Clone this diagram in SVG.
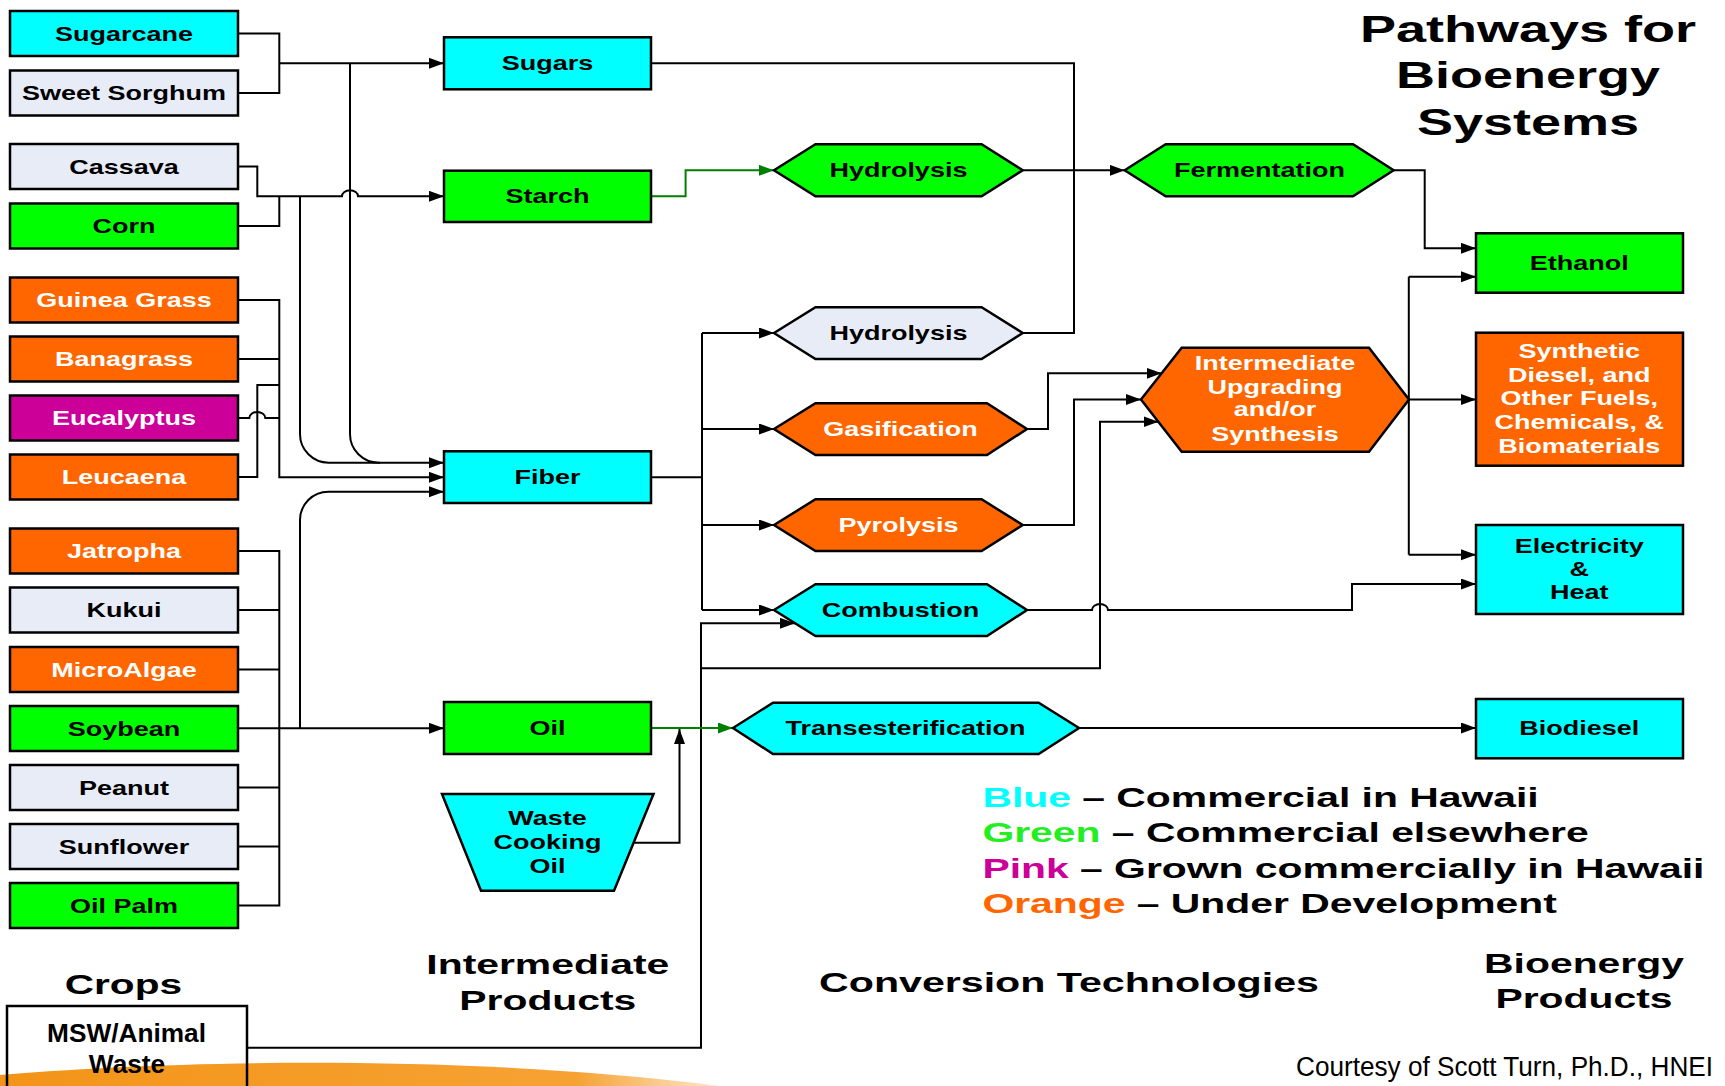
<svg xmlns="http://www.w3.org/2000/svg" width="1725" height="1086" viewBox="0 0 1725 1086">
<defs>
<style>
.b{stroke:#000;stroke-width:2.5}
.cy{fill:#00FFFF}.gr{fill:#00FF00}.lt{fill:#E7ECF7}.or{fill:#FF6600}.mg{fill:#CC0099}.no{fill:none}
text{font-family:"Liberation Sans",Arial,Helvetica,sans-serif;font-weight:bold}
.n{font-size:20px;text-anchor:middle;fill:#000}
.w{fill:#fff}
.h{font-size:28px;text-anchor:middle;fill:#000}
.ti{font-size:37px;text-anchor:middle;fill:#000}
.lg{font-size:28px;fill:#000}
.ms{font-size:25px;text-anchor:middle;fill:#000}
.cr{font-size:27px;font-weight:normal;fill:#000}
.c{fill:none;stroke:#000;stroke-width:2}
.g{stroke:#008000}
</style>
<marker id="ah" markerUnits="userSpaceOnUse" markerWidth="16" markerHeight="12" refX="15" refY="5.5" orient="auto"><path d="M0,0 L15,5.5 L0,11 z" fill="#000"/></marker>
<marker id="ag" markerUnits="userSpaceOnUse" markerWidth="16" markerHeight="12" refX="15" refY="5.5" orient="auto"><path d="M0,0 L15,5.5 L0,11 z" fill="#008000"/></marker>
<linearGradient id="sw" x1="0" y1="0" x2="1" y2="0">
<stop offset="0" stop-color="#F39418"/>
<stop offset="0.8" stop-color="#F6A233"/>
<stop offset="1" stop-color="#FDE9CC"/>
</linearGradient>
</defs>
<rect x="0" y="0" width="1725" height="1086" fill="#fff"/>
<path d="M0,1075 C150,1062 450,1052 720,1086 L0,1086 Z" fill="url(#sw)"/>

<g id="connectors">
<path class="c" d="M238,33.5 H279.3 V93 H238"/>
<path class="c" d="M279.3,63.3 H444" marker-end="url(#ah)"/>
<path class="c" d="M350,63.3 V434 A28.7,28.7 0 0 0 378.7,462.7 H444" marker-end="url(#ah)"/>
<path class="c" d="M238,166.5 H257.3 V196.3 H342 A8,6 0 0 1 358,196.3 H444" marker-end="url(#ah)"/>
<path class="c" d="M238,226 H279.3 V196.3"/>
<path class="c" d="M300,196.3 V434 A28.7,28.7 0 0 0 328.7,462.7 H380"/>
<path class="c" d="M238,300 H279.3 V477.3 H444" marker-end="url(#ah)"/>
<path class="c" d="M238,359 H279.3"/>
<path class="c" d="M238,418 H249.3 A8,6 0 0 1 265.3,418 H279.3"/>
<path class="c" d="M238,477 H257.3 V385 H279.3"/>
<path class="c" d="M238,551 H279.3 V905.5 H238"/>
<path class="c" d="M238,610 H279.3 M238,669.5 H279.3 M238,787.5 H279.3 M238,846.5 H279.3"/>
<path class="c" d="M238,728.3 H444" marker-end="url(#ah)"/>
<path class="c" d="M300,728.3 V520 A28.3,28.3 0 0 1 328.3,491.7 H444" marker-end="url(#ah)"/>
<path class="c g" d="M651,196.3 H685.6 V170.3 H774" marker-end="url(#ag)"/>
<path class="c" d="M651,63.3 H1074 V170.3"/>
<path class="c" d="M1022.7,333 H1074 V170.3"/>
<path class="c" d="M1022.7,170.3 H1124.7" marker-end="url(#ah)"/>
<path class="c" d="M1393.6,170.3 H1424.7 V248.3 H1476" marker-end="url(#ah)"/>
<path class="c" d="M651,477.2 H702 M702,333 V610"/>
<path class="c" d="M702,333 H774" marker-end="url(#ah)"/>
<path class="c" d="M702,429 H774" marker-end="url(#ah)"/>
<path class="c" d="M702,525 H774" marker-end="url(#ah)"/>
<path class="c" d="M702,610 H774" marker-end="url(#ah)"/>
<path class="c" d="M1027,429 H1048 V373.3 H1161.6" marker-end="url(#ah)"/>
<path class="c" d="M1022.7,525 H1074 V399.5 H1141" marker-end="url(#ah)"/>
<path class="c" d="M247,1047.7 H701 V623.3 H795" marker-end="url(#ah)"/>
<path class="c" d="M701,668.3 H1100 V421.7 H1158.5" marker-end="url(#ah)"/>
<path class="c" d="M1027,610 H1092 A8,6 0 0 1 1108,610 H1352 V584 H1476" marker-end="url(#ah)"/>
<path class="c" d="M1409,399.5 H1476" marker-end="url(#ah)"/>
<path class="c" d="M1408.8,276.7 V554.7"/>
<path class="c" d="M1408.8,276.7 H1476" marker-end="url(#ah)"/>
<path class="c" d="M1408.8,554.7 H1476" marker-end="url(#ah)"/>
<path class="c g" d="M651,728 H733" marker-end="url(#ag)"/>
<path class="c" d="M633,842.7 H679.5 V729" marker-end="url(#ah)"/>
<path class="c" d="M1079,728 H1476" marker-end="url(#ah)"/>
</g>

<g id="sugarcane"><rect class="b cy" x="10" y="11" width="228" height="45"/><text class="n" transform="translate(124,40.5) scale(1.35,1)">Sugarcane</text></g>
<g id="sweet-sorghum"><rect class="b lt" x="10" y="70.5" width="228" height="45"/><text class="n" transform="translate(124,100) scale(1.35,1)">Sweet Sorghum</text></g>
<g id="cassava"><rect class="b lt" x="10" y="144" width="228" height="45"/><text class="n" transform="translate(124,173.5) scale(1.35,1)">Cassava</text></g>
<g id="corn"><rect class="b gr" x="10" y="203.5" width="228" height="45"/><text class="n" transform="translate(124,233) scale(1.35,1)">Corn</text></g>
<g id="guinea-grass"><rect class="b or" x="10" y="277.5" width="228" height="45"/><text class="n w" transform="translate(124,307) scale(1.35,1)">Guinea Grass</text></g>
<g id="banagrass"><rect class="b or" x="10" y="336.5" width="228" height="45"/><text class="n w" transform="translate(124,366) scale(1.35,1)">Banagrass</text></g>
<g id="eucalyptus"><rect class="b mg" x="10" y="395.5" width="228" height="45"/><text class="n w" transform="translate(124,425) scale(1.35,1)">Eucalyptus</text></g>
<g id="leucaena"><rect class="b or" x="10" y="454.5" width="228" height="45"/><text class="n w" transform="translate(124,484) scale(1.35,1)">Leucaena</text></g>
<g id="jatropha"><rect class="b or" x="10" y="528.5" width="228" height="45"/><text class="n w" transform="translate(124,558) scale(1.35,1)">Jatropha</text></g>
<g id="kukui"><rect class="b lt" x="10" y="587.5" width="228" height="45"/><text class="n" transform="translate(124,617) scale(1.35,1)">Kukui</text></g>
<g id="microalgae"><rect class="b or" x="10" y="647" width="228" height="45"/><text class="n w" transform="translate(124,676.5) scale(1.35,1)">MicroAlgae</text></g>
<g id="soybean"><rect class="b gr" x="10" y="706" width="228" height="45"/><text class="n" transform="translate(124,735.5) scale(1.35,1)">Soybean</text></g>
<g id="peanut"><rect class="b lt" x="10" y="765" width="228" height="45"/><text class="n" transform="translate(124,794.5) scale(1.35,1)">Peanut</text></g>
<g id="sunflower"><rect class="b lt" x="10" y="824" width="228" height="45"/><text class="n" transform="translate(124,853.5) scale(1.35,1)">Sunflower</text></g>
<g id="oil-palm"><rect class="b gr" x="10" y="883" width="228" height="45"/><text class="n" transform="translate(124,912.5) scale(1.35,1)">Oil Palm</text></g>
<g id="msw"><rect class="b no" x="7" y="1006" width="240" height="90"/><text class="ms" transform="translate(126.5,1041.7) scale(1.05,1)">MSW/Animal</text><text class="ms" transform="translate(127,1073) scale(1.05,1)">Waste</text></g>

<g id="sugars"><rect class="b cy" x="444" y="37.3" width="207" height="52"/><text class="n" transform="translate(547.5,70) scale(1.35,1)">Sugars</text></g>
<g id="starch"><rect class="b gr" x="444" y="170.7" width="207" height="51.3"/><text class="n" transform="translate(547.5,203.3) scale(1.35,1)">Starch</text></g>
<g id="fiber"><rect class="b cy" x="444" y="451.3" width="207" height="51.7"/><text class="n" transform="translate(547.5,484.2) scale(1.35,1)">Fiber</text></g>
<g id="oil"><rect class="b gr" x="444" y="702" width="207" height="52"/><text class="n" transform="translate(547.5,735) scale(1.35,1)">Oil</text></g>
<g id="waste-cooking-oil"><polygon class="b cy" points="442,794 653.5,794 614,890.7 481,890.7"/><text class="n" transform="translate(547.5,825) scale(1.35,1)"><tspan x="0">Waste</tspan><tspan x="0" dy="24.5">Cooking</tspan><tspan x="0" dy="23.5">Oil</tspan></text></g>

<g id="hydrolysis-starch"><polygon class="b gr" points="774,170.3 815.5,144.3 981.6,144.3 1022.7,170.3 981.6,196.3 815.5,196.3"/><text class="n" transform="translate(898.4,177) scale(1.35,1)">Hydrolysis</text></g>
<g id="fermentation"><polygon class="b gr" points="1124.7,170.3 1165.7,144.3 1353,144.3 1393.6,170.3 1353,196.3 1165.7,196.3"/><text class="n" transform="translate(1259.5,177) scale(1.35,1)">Fermentation</text></g>
<g id="hydrolysis-fiber"><polygon class="b lt" points="774,333 815.5,307.3 981.6,307.3 1022.7,333 981.6,359 815.5,359"/><text class="n" transform="translate(898.4,340) scale(1.35,1)">Hydrolysis</text></g>
<g id="gasification"><polygon class="b or" points="774,429 815.5,403.3 987,403.3 1027,429 987,455 815.5,455"/><text class="n w" transform="translate(900.5,436) scale(1.35,1)">Gasification</text></g>
<g id="pyrolysis"><polygon class="b or" points="774,525 815.5,499.3 981.6,499.3 1022.7,525 981.6,551 815.5,551"/><text class="n w" transform="translate(898.4,532) scale(1.35,1)">Pyrolysis</text></g>
<g id="combustion"><polygon class="b cy" points="774,610 815.5,584.3 987,584.3 1027,610 987,636 815.5,636"/><text class="n" transform="translate(900.5,617) scale(1.35,1)">Combustion</text></g>
<g id="transesterification"><polygon class="b cy" points="733,728 773,702.7 1038.6,702.7 1079,728 1038.6,754 773,754"/><text class="n" transform="translate(905.5,735) scale(1.35,1)">Transesterification</text></g>
<g id="intermediate-upgrading"><polygon class="b or" points="1141,399.5 1181.7,347.7 1369,347.7 1409,399.5 1369,451.7 1181.7,451.7"/><text class="n w" transform="translate(1275,370) scale(1.35,1)"><tspan x="0">Intermediate</tspan><tspan x="0" dy="24">Upgrading</tspan><tspan x="0" dy="22.5">and/or</tspan><tspan x="0" dy="24.3">Synthesis</tspan></text></g>

<g id="ethanol"><rect class="b gr" x="1476" y="233.3" width="207" height="59.4"/><text class="n" transform="translate(1579.3,270) scale(1.35,1)">Ethanol</text></g>
<g id="synthetic"><rect class="b or" x="1476" y="332.7" width="207" height="133"/><text class="n w" transform="translate(1579.3,358.3) scale(1.35,1)"><tspan x="0">Synthetic</tspan><tspan x="0" dy="23.6">Diesel, and</tspan><tspan x="0" dy="23.6">Other Fuels,</tspan><tspan x="0" dy="23.6">Chemicals, &amp;</tspan><tspan x="0" dy="23.6">Biomaterials</tspan></text></g>
<g id="electricity"><rect class="b cy" x="1476" y="525" width="207" height="89"/><text class="n" transform="translate(1579.3,552.7) scale(1.35,1)"><tspan x="0">Electricity</tspan><tspan x="0" dy="23.3">&amp;</tspan><tspan x="0" dy="23.3">Heat</tspan></text></g>
<g id="biodiesel"><rect class="b cy" x="1476" y="699" width="207" height="59.3"/><text class="n" transform="translate(1579.3,735) scale(1.35,1)">Biodiesel</text></g>

<g id="labels">
<text class="ti" transform="translate(1528,41.7) scale(1.46,1)">Pathways for</text>
<text class="ti" transform="translate(1528,88.3) scale(1.46,1)">Bioenergy</text>
<text class="ti" transform="translate(1528,135) scale(1.46,1)">Systems</text>
<text class="h" transform="translate(123.4,994.3) scale(1.45,1)">Crops</text>
<text class="h" transform="translate(547.8,974) scale(1.46,1)">Intermediate</text>
<text class="h" transform="translate(547.8,1010) scale(1.46,1)">Products</text>
<text class="h" transform="translate(1069,991.7) scale(1.47,1)">Conversion Technologies</text>
<text class="h" transform="translate(1584,973) scale(1.46,1)">Bioenergy</text>
<text class="h" transform="translate(1584,1008) scale(1.46,1)">Products</text>
<text class="lg" transform="translate(982.4,806.7) scale(1.46,1)"><tspan fill="#00FFFF">Blue</tspan> – Commercial in Hawaii</text>
<text class="lg" transform="translate(982.4,842.3) scale(1.46,1)"><tspan fill="#22EE22">Green</tspan> – Commercial elsewhere</text>
<text class="lg" transform="translate(982.4,878.3) scale(1.46,1)"><tspan fill="#CC0099">Pink</tspan> – Grown commercially in Hawaii</text>
<text class="lg" transform="translate(982.4,913.3) scale(1.46,1)"><tspan fill="#FF6600">Orange</tspan> – Under Development</text>
<text class="cr" x="1296" y="1076" textLength="417" lengthAdjust="spacingAndGlyphs">Courtesy of Scott Turn, Ph.D., HNEI</text>
</g>
</svg>
